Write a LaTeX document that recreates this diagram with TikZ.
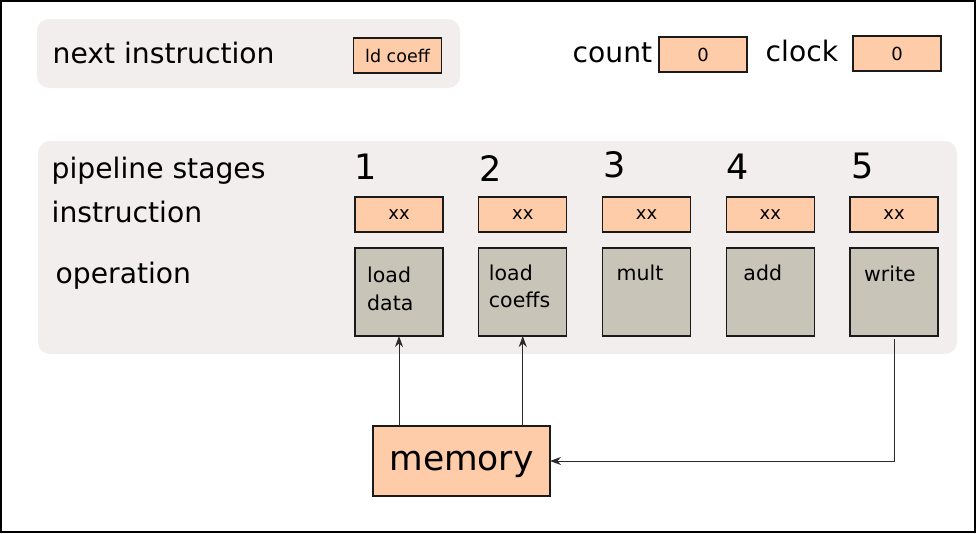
\documentclass[tikz,border=0pt]{standalone}
\usepackage{fontspec}
\setmainfont{DejaVu Sans}
\usetikzlibrary{positioning,chains,arrows.meta}
\definecolor{panelgray}{HTML}{F1EEED}
\definecolor{regorange}{HTML}{FFCCAA}
\definecolor{opgray}{HTML}{C8C4B7}
\definecolor{edge}{HTML}{1A1A1A}
\definecolor{wire}{HTML}{2A2A2A}

\begin{document}
\begin{tikzpicture}[
x=1pt, y=-1pt,
panel/.style={fill=panelgray, rounded corners=12pt},
reg/.style={
	draw=edge, fill=regorange, line width=1.2pt,
	minimum width=88pt, minimum height=35pt,
	inner sep=0pt, outer sep=0pt,
	font=\fontsize{18}{22}\selectfont
},
op/.style={
	draw=edge, fill=opgray, line width=1.2pt,
	minimum size=88pt, inner sep=0pt, outer sep=0pt
},
optext/.style={inner sep=0pt, align=left, font=\fontsize{20.5}{27.3}\selectfont},
head/.style={inner sep=0pt, anchor=base west, font=\fontsize{28.2}{34}\selectfont},
stage/.style={inner sep=0pt, font=\fontsize{35}{42}\selectfont},
mem/.style={
	draw=edge, fill=regorange, line width=1.2pt,
	minimum width=177pt, minimum height=70pt,
	inner sep=0pt, outer sep=0pt, text depth=0pt,
	font=\fontsize{34.5}{40}\selectfont
},
link/.style={draw=wire, line width=1pt, -{Stealth[length=11pt,width=8pt,inset=3.5pt]}},
start chain=going right, node distance=35.75pt
]
\useasboundingbox (0,0) rectangle (976,533);
\draw[line width=1.5pt] (1,1) rectangle (975,532);
\fill[panel] (37,19) rectangle (460,88);
\fill[panel] (38,141) rectangle (957,354);

\node[head] (next) at (52.5,63.3) {next instruction};
\node[reg, font=\fontsize{17.5}{21}\selectfont] (ldc) at (397.5,55.5) {ld coeff};
\node[head] (count) at (572.5,62.7) {count};
\node[reg] (cnt) at (703,54.5) {0};
\node[head] (clock) at (765.5,61.7) {clock};
\node[reg] (clk) at (897,53.5) {0};

\node[head] (stages) at (51.5,178) {pipeline stages};
\node[head] (instr) at (51.5,222.7) {instruction};
\node[head] (oper) at (55.5,283.3) {operation};

\node[op,on chain] (o1) at (399,292) {};
\node[op,on chain] (o2) {};
\node[op,on chain] (o3) {};
\node[op,on chain] (o4) {};
\node[op,on chain] (o5) {};

\node[optext, below right=19.1pt and 12pt of o1.north west] (t1) {load\\data};
\node[optext, below right=16.4pt and 10pt of o2.north west] (t2) {load\\coeffs};
\node[optext, below right=16.4pt and 14pt of o3.north west] (t3) {mult};
\node[optext, below right=17.1pt and 17pt of o4.north west] (t4) {add};
\node[optext, below right=18.1pt and 14pt of o5.north west] (t5) {write};

\node[reg, above=16pt of o1] (x1) {xx};
\node[reg, above=16pt of o2] (x2) {xx};
\node[reg, above=16pt of o3] (x3) {xx};
\node[reg, above=16pt of o4] (x4) {xx};
\node[reg, above=16pt of o5] (x5) {xx};

\node[stage, above right=17.7pt and -1pt of x1.north west] (n1) {1};
\node[stage, above right=15pt and 0.5pt of x2.north west] (n2) {2};
\node[stage, above right=19pt and 1pt of x3.north west] (n3) {3};
\node[stage, above right=17.5pt and 0pt of x4.north west] (n4) {4};
\node[stage, above right=18pt and 1pt of x5.north west] (n5) {5};

\node[mem] (mem) at (461.5,461) {memory};

\draw[link] (o1.south |- mem.north) -- (o1.south);
\draw[link] (o2.south |- mem.north) -- (o2.south);
\draw[link, shorten <=3pt] (o5.south) |- (mem.east);
\end{tikzpicture}
\end{document}
